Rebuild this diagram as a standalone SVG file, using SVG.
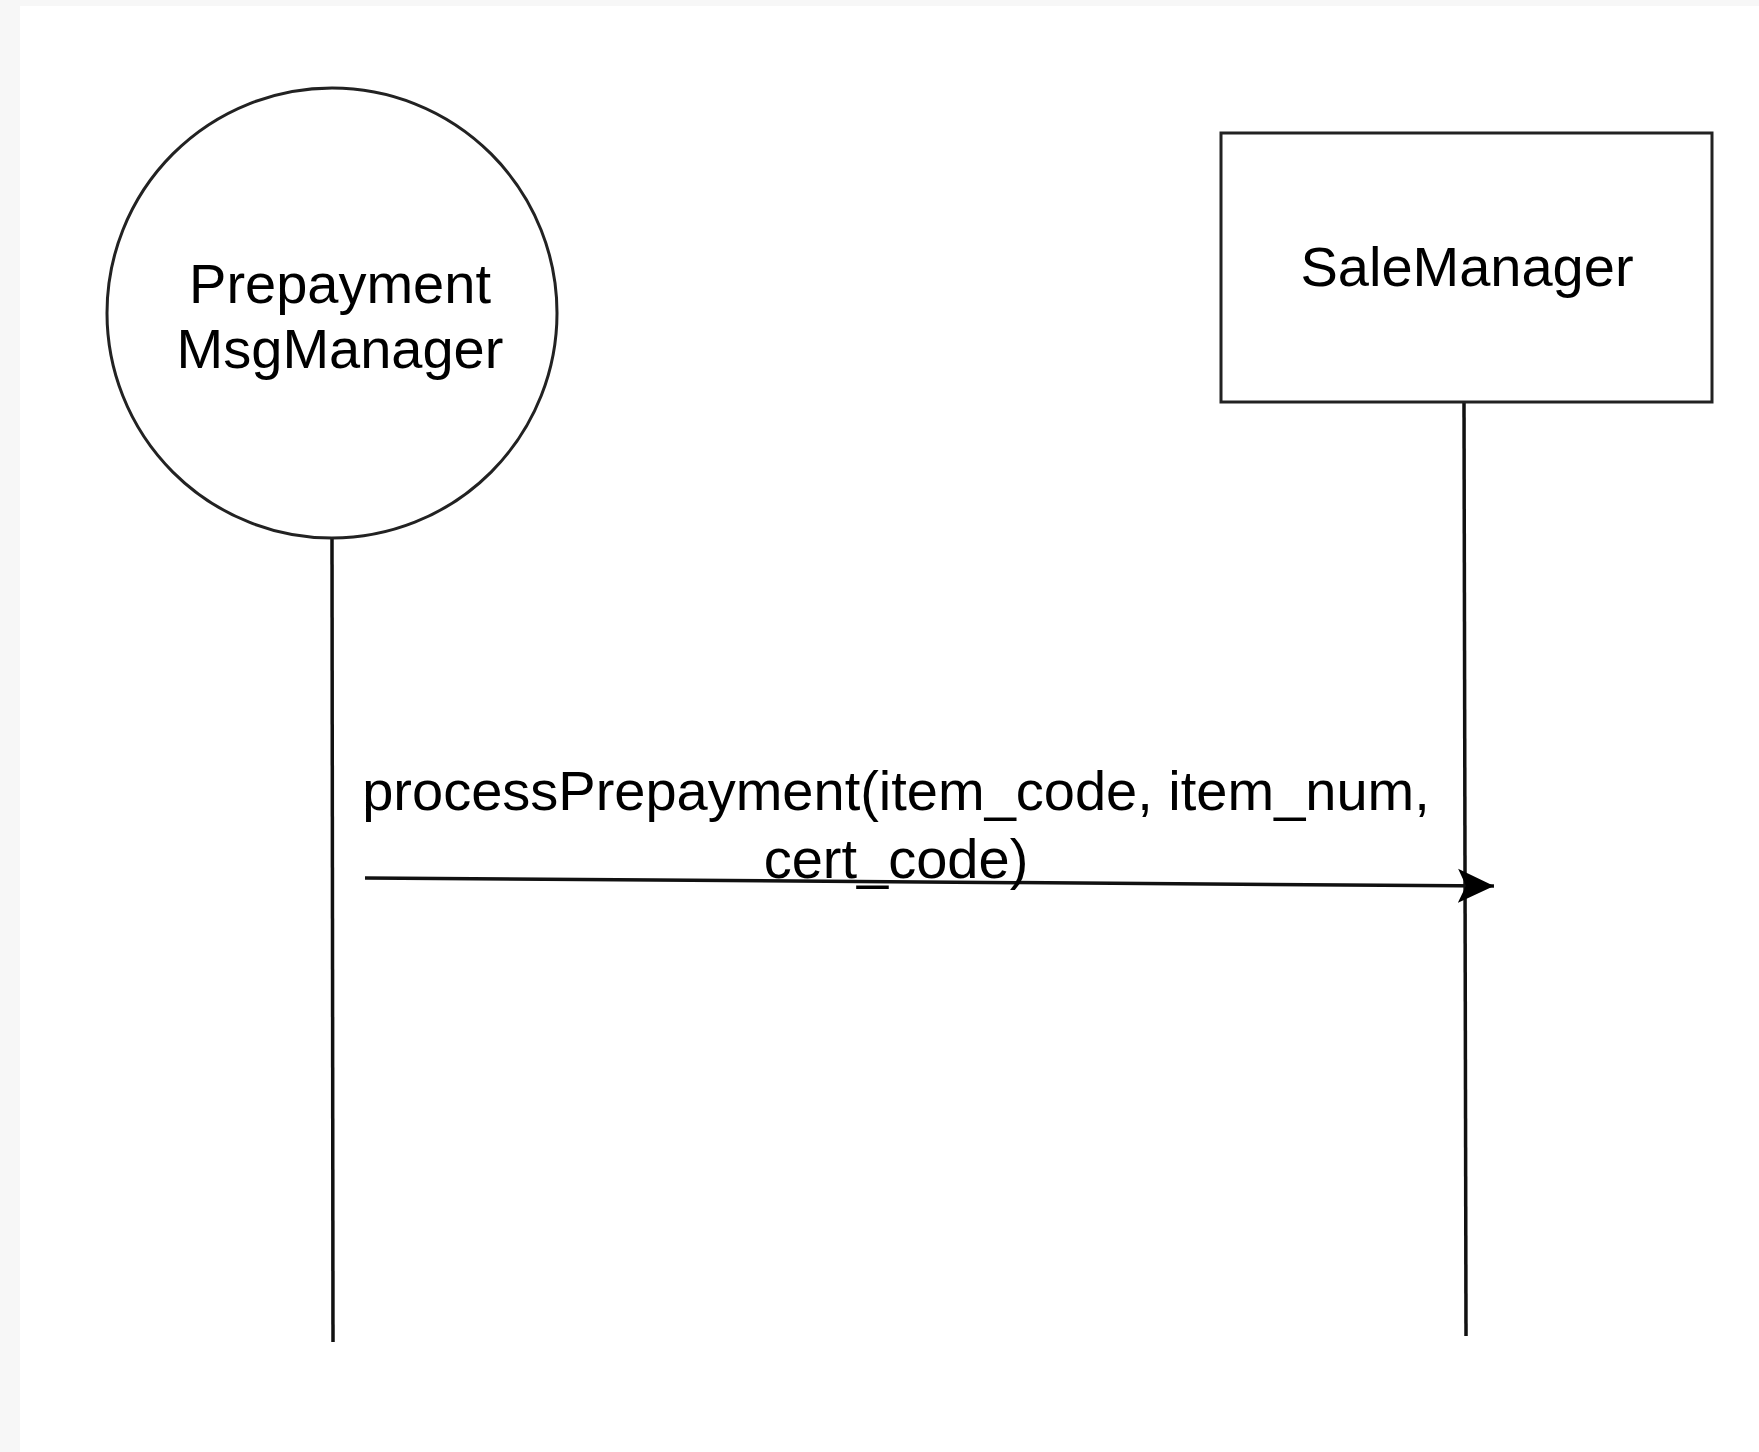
<svg xmlns="http://www.w3.org/2000/svg" width="1759" height="1452" viewBox="0 0 1759 1452">
<style>
  .lbl { font-family: "Liberation Sans", Arial, sans-serif; font-size: 56px; fill: #000; text-anchor: middle; }
  .shape { fill: #fff; stroke: #222; stroke-width: 3; }
  .life { stroke: #111; stroke-width: 3.5; fill: none; }
</style>
<defs>
  <marker id="arrow" markerUnits="userSpaceOnUse" markerWidth="40" markerHeight="40" viewBox="0 0 40 40" refX="36" refY="20" orient="auto">
    <path d="M0,3 L36,20 L0,37 L8,20 Z" fill="#000"/>
  </marker>
</defs>
<rect x="0" y="0" width="1759" height="1452" fill="#f7f7f7"/>
<rect x="20" y="6" width="1739" height="1446" fill="#fff"/>

<g id="connectors">
  <line class="life" x1="332" y1="538" x2="333" y2="1342"/>
  <line class="life" x1="1464" y1="402" x2="1466" y2="1336"/>
  <path d="M365,878 L1494,886" stroke="#111" stroke-width="3.5" fill="none" marker-end="url(#arrow)"/>
  <text class="lbl" x="896" y="810">processPrepayment(item_code, item_num,</text>
  <text class="lbl" x="896" y="878">cert_code)</text>
</g>

<g id="prepayment-msg-manager">
  <circle class="shape" cx="332" cy="313" r="225" stroke-width="2.5"/>
  <text class="lbl" x="340" y="303">Prepayment</text>
  <text class="lbl" x="340" y="368">MsgManager</text>
</g>

<g id="sale-manager">
  <rect class="shape" x="1221" y="133" width="491" height="269"/>
  <text class="lbl" x="1467" y="286">SaleManager</text>
</g>
</svg>
